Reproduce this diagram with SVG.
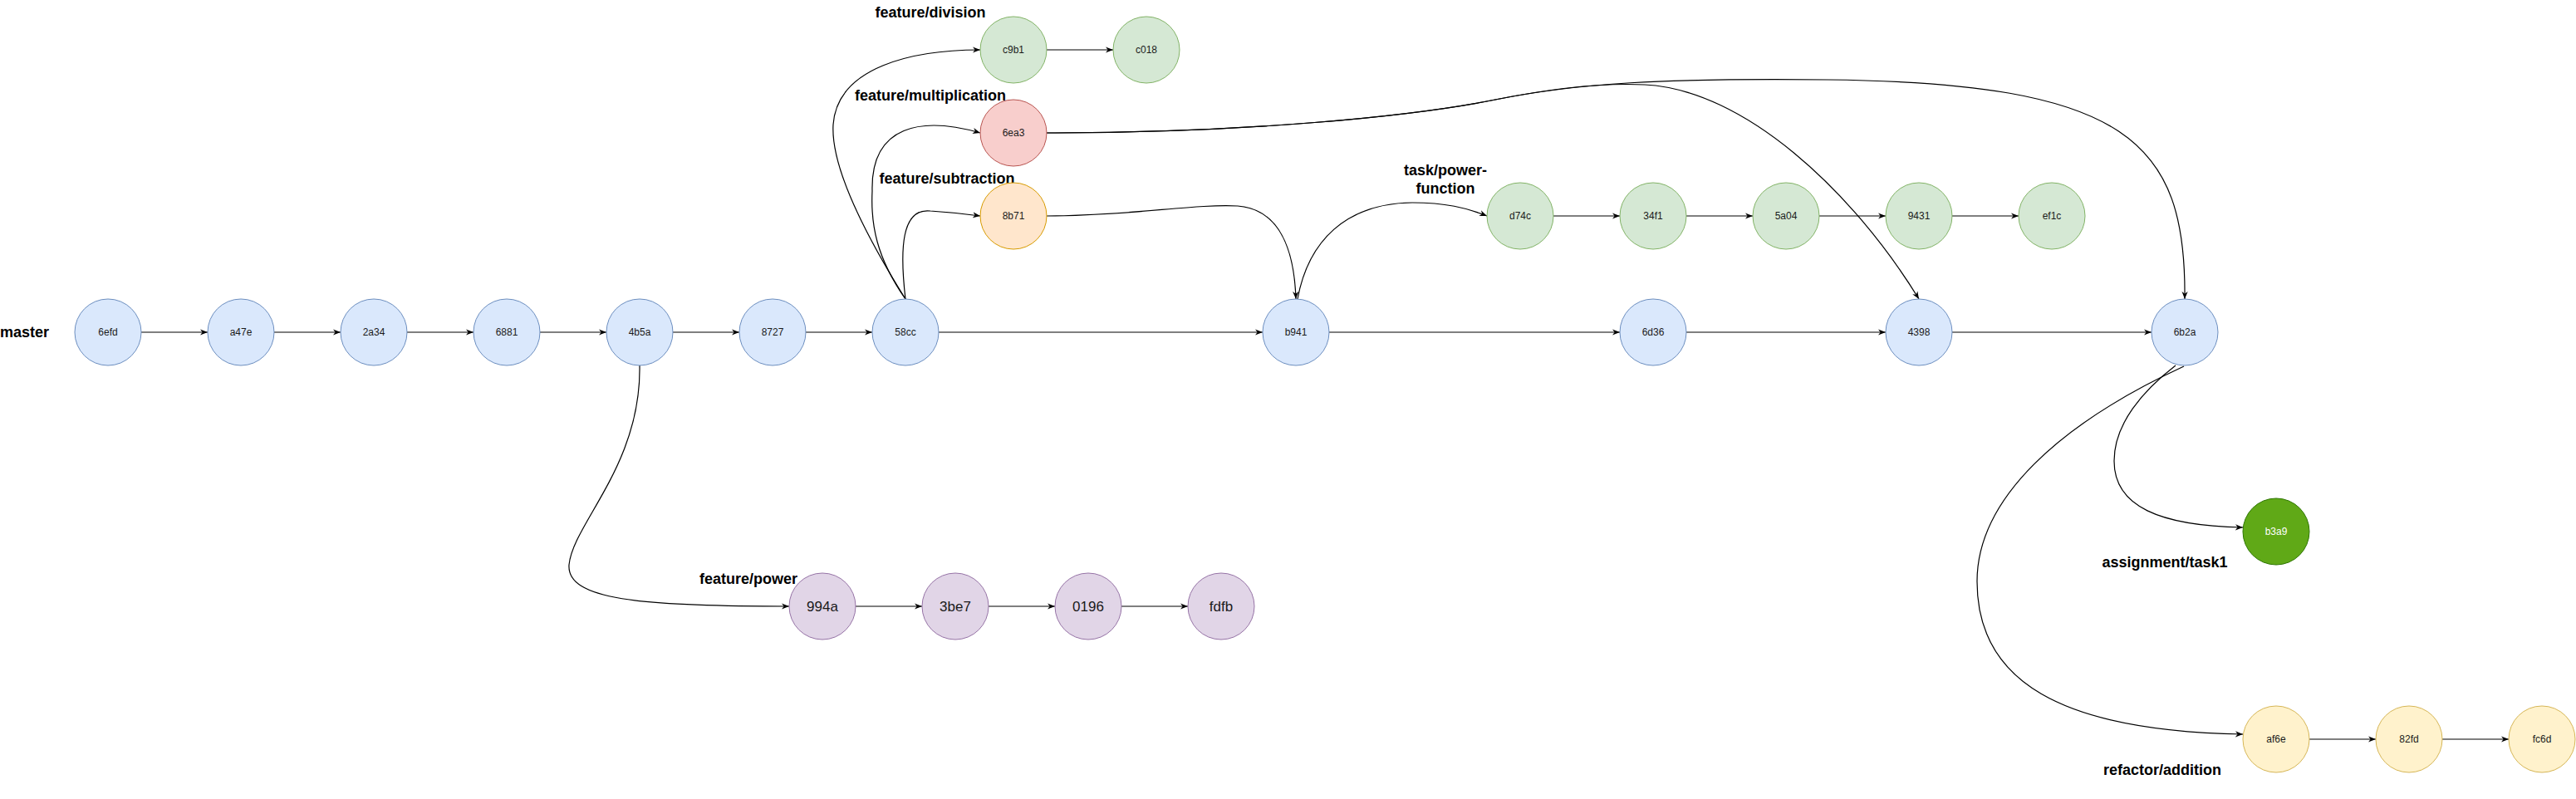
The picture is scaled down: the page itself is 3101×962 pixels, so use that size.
<svg xmlns="http://www.w3.org/2000/svg" width="3101" height="962" viewBox="0 0 3101 962">
<style>
.n{stroke-width:1}
.blue{fill:#dae8fc;stroke:#6c8ebf}
.green{fill:#d5e8d4;stroke:#82b366}
.red{fill:#f8cecc;stroke:#b85450}
.orange{fill:#ffe6cc;stroke:#d79b00}
.purple{fill:#e1d5e7;stroke:#9673a6}
.yellow{fill:#fff2cc;stroke:#d6b656}
.dgreen{fill:#60a917;stroke:#2d7600}
.t{font-family:"Liberation Sans",Arial,sans-serif;font-size:12px;fill:#1a1a1a;text-anchor:middle}
.tb{font-size:17px}
.tw{fill:#ffffff}
.lbl{font-family:"Liberation Sans",Arial,sans-serif;font-size:18px;font-weight:bold;fill:#000;text-anchor:middle}
.e{fill:none;stroke:#000;stroke-width:1.2}
</style>
<defs>
<marker id="arr" viewBox="0 0 10 10" refX="10" refY="5" markerWidth="9" markerHeight="9" markerUnits="userSpaceOnUse" orient="auto">
<path d="M0,1 L10,5 L0,9 L3,5 z" fill="#000"/>
</marker>
</defs>
<rect width="3101" height="962" fill="#ffffff"/>

<g id="connectors">
<path class="e" marker-end="url(#arr)" d="M170,400 H250"/>
<path class="e" marker-end="url(#arr)" d="M330,400 H410"/>
<path class="e" marker-end="url(#arr)" d="M490,400 H570"/>
<path class="e" marker-end="url(#arr)" d="M650,400 H730"/>
<path class="e" marker-end="url(#arr)" d="M810,400 H890"/>
<path class="e" marker-end="url(#arr)" d="M970,400 H1050"/>
<path class="e" marker-end="url(#arr)" d="M1130,400 H1520"/>
<path class="e" marker-end="url(#arr)" d="M1600,400 H1950"/>
<path class="e" marker-end="url(#arr)" d="M2030,400 H2270"/>
<path class="e" marker-end="url(#arr)" d="M2350,400 H2590"/>
<path class="e" marker-end="url(#arr)" d="M1870,260 H1950"/>
<path class="e" marker-end="url(#arr)" d="M2030,260 H2110"/>
<path class="e" marker-end="url(#arr)" d="M2190,260 H2270"/>
<path class="e" marker-end="url(#arr)" d="M2350,260 H2430"/>
<path class="e" marker-end="url(#arr)" d="M1260,60 H1340"/>
<path class="e" marker-end="url(#arr)" d="M1030,730 H1110"/>
<path class="e" marker-end="url(#arr)" d="M1190,730 H1270"/>
<path class="e" marker-end="url(#arr)" d="M1350,730 H1430"/>
<path class="e" marker-end="url(#arr)" d="M2780,890 H2860"/>
<path class="e" marker-end="url(#arr)" d="M2940,890 H3020"/>
<path class="e" marker-end="url(#arr)" d="M770,440 C772,560 690,630 685,680 C682,722 770,730 950,730"/>
<path class="e" marker-end="url(#arr)" d="M1090,360 C1040,280 1000,200 1003,150 C1008,80 1100,60 1180,60"/>
<path class="e" marker-end="url(#arr)" d="M1090,360 C1055,310 1048,270 1050,230 C1048,150 1110,140 1180,160"/>
<path class="e" marker-end="url(#arr)" d="M1090,360 C1083,300 1085,250 1120,254 C1150,256 1165,258 1180,260"/>
<path class="e" marker-end="url(#arr)" d="M1260,260 C1360,260 1440,245 1490,248 C1540,252 1558,300 1560,360"/>
<path class="e" marker-end="url(#arr)" d="M1562,360 C1575,290 1620,245 1700,244 C1740,244 1765,250 1790,260"/>
<path class="e" marker-end="url(#arr)" d="M1260,160 C1500,160 1700,140 1800,120 C1900,100 2000,94 2200,96 C2560,100 2632,170 2630,360"/>
<path class="e" marker-end="url(#arr)" d="M1260,160 C1500,160 1700,140 1800,120 C1880,104 1940,100 1980,102 C2100,108 2230,230 2310,360"/>
<path class="e" marker-end="url(#arr)" d="M2619,440 C2580,470 2545,510 2545,555 C2545,610 2600,633 2700,635"/>
<path class="e" marker-end="url(#arr)" d="M2629,441 C2480,510 2380,600 2380,700 C2380,820 2480,880 2700,884"/>
</g>

<g id="label-master"><text class="lbl" x="0" y="406" style="text-anchor:start">master</text></g>
<g id="label-division"><text class="lbl" x="1120" y="21">feature/division</text></g>
<g id="label-multiplication"><text class="lbl" x="1120" y="121">feature/multiplication</text></g>
<g id="label-subtraction"><text class="lbl" x="1140" y="221">feature/subtraction</text></g>
<g id="label-power-function"><text class="lbl" x="1740" y="211">task/power-</text><text class="lbl" x="1740" y="233">function</text></g>
<g id="label-power"><rect x="840" y="686" width="120" height="22" fill="#ffffff"/><text class="lbl" x="901" y="703">feature/power</text></g>
<g id="label-task1"><text class="lbl" x="2606" y="683">assignment/task1</text></g>
<g id="label-addition"><text class="lbl" x="2603" y="933">refactor/addition</text></g>

<g id="n-6efd"><circle class="blue" cx="130" cy="400" r="40"/><text class="t" x="130" y="404">6efd</text></g>
<g id="n-a47e"><circle class="blue" cx="290" cy="400" r="40"/><text class="t" x="290" y="404">a47e</text></g>
<g id="n-2a34"><circle class="blue" cx="450" cy="400" r="40"/><text class="t" x="450" y="404">2a34</text></g>
<g id="n-6881"><circle class="blue" cx="610" cy="400" r="40"/><text class="t" x="610" y="404">6881</text></g>
<g id="n-4b5a"><circle class="blue" cx="770" cy="400" r="40"/><text class="t" x="770" y="404">4b5a</text></g>
<g id="n-8727"><circle class="blue" cx="930" cy="400" r="40"/><text class="t" x="930" y="404">8727</text></g>
<g id="n-58cc"><circle class="blue" cx="1090" cy="400" r="40"/><text class="t" x="1090" y="404">58cc</text></g>
<g id="n-b941"><circle class="blue" cx="1560" cy="400" r="40"/><text class="t" x="1560" y="404">b941</text></g>
<g id="n-6d36"><circle class="blue" cx="1990" cy="400" r="40"/><text class="t" x="1990" y="404">6d36</text></g>
<g id="n-4398"><circle class="blue" cx="2310" cy="400" r="40"/><text class="t" x="2310" y="404">4398</text></g>
<g id="n-6b2a"><circle class="blue" cx="2630" cy="400" r="40"/><text class="t" x="2630" y="404">6b2a</text></g>

<g id="n-c9b1"><circle class="green" cx="1220" cy="60" r="40"/><text class="t" x="1220" y="64">c9b1</text></g>
<g id="n-c018"><circle class="green" cx="1380" cy="60" r="40"/><text class="t" x="1380" y="64">c018</text></g>
<g id="n-6ea3"><circle class="red" cx="1220" cy="160" r="40"/><text class="t" x="1220" y="164">6ea3</text></g>
<g id="n-8b71"><circle class="orange" cx="1220" cy="260" r="40"/><text class="t" x="1220" y="264">8b71</text></g>

<g id="n-d74c"><circle class="green" cx="1830" cy="260" r="40"/><text class="t" x="1830" y="264">d74c</text></g>
<g id="n-34f1"><circle class="green" cx="1990" cy="260" r="40"/><text class="t" x="1990" y="264">34f1</text></g>
<g id="n-5a04"><circle class="green" cx="2150" cy="260" r="40"/><text class="t" x="2150" y="264">5a04</text></g>
<g id="n-9431"><circle class="green" cx="2310" cy="260" r="40"/><text class="t" x="2310" y="264">9431</text></g>
<g id="n-ef1c"><circle class="green" cx="2470" cy="260" r="40"/><text class="t" x="2470" y="264">ef1c</text></g>

<g id="n-994a"><circle class="purple" cx="990" cy="730" r="40"/><text class="t tb" x="990" y="736">994a</text></g>
<g id="n-3be7"><circle class="purple" cx="1150" cy="730" r="40"/><text class="t tb" x="1150" y="736">3be7</text></g>
<g id="n-0196"><circle class="purple" cx="1310" cy="730" r="40"/><text class="t tb" x="1310" y="736">0196</text></g>
<g id="n-fdfb"><circle class="purple" cx="1470" cy="730" r="40"/><text class="t tb" x="1470" y="736">fdfb</text></g>

<g id="n-b3a9"><circle class="dgreen" cx="2740" cy="640" r="40"/><text class="t tw" x="2740" y="644">b3a9</text></g>
<g id="n-af6e"><circle class="yellow" cx="2740" cy="890" r="40"/><text class="t" x="2740" y="894">af6e</text></g>
<g id="n-82fd"><circle class="yellow" cx="2900" cy="890" r="40"/><text class="t" x="2900" y="894">82fd</text></g>
<g id="n-fc6d"><circle class="yellow" cx="3060" cy="890" r="40"/><text class="t" x="3060" y="894">fc6d</text></g>
</svg>
